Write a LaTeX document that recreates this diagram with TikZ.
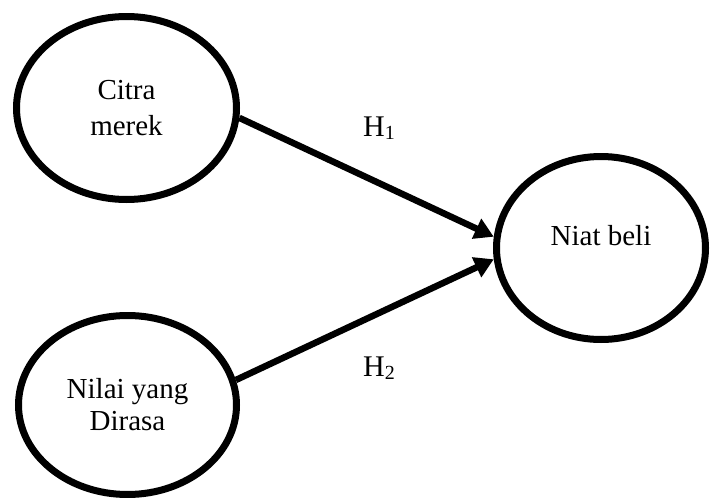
\documentclass[tikz,border=0pt]{standalone}
\usepackage{fontspec}
\setmainfont{Liberation Serif}
\usetikzlibrary{shapes.geometric,arrows.meta}
\tikzset{
  construct/.style={ellipse, draw=black, line width=7pt, inner sep=0pt, align=center,
    font=\fontsize{29}{35}\selectfont},
  path arrow/.style={line width=6.5pt, -{Triangle[length=19pt,width=21pt]}},
  hyp/.style={font=\fontsize{30}{30}\selectfont, inner sep=0pt}
}
\newcommand{\hsub}[1]{H\raisebox{-3.5pt}{\fontsize{20}{20}\selectfont #1}}
\begin{document}
\begin{tikzpicture}[x=1pt,y=-1pt]
\useasboundingbox (0,0) rectangle (710,498);
\node[construct, minimum width=220pt, minimum height=183pt] (citra) at (126.5,108)
  {Citra\\[1pt]merek};
\node[construct, minimum width=218pt, minimum height=179pt] (nilai) at (127.5,405)
  {Nilai yang\\[-3pt]Dirasa};
\node[construct, minimum width=209pt, minimum height=183pt,
  label={[font=\fontsize{29}{35}\selectfont, yshift=12pt]center:Niat beli}] (niat) at (601,248) {};
\draw[path arrow] (citra.355.5) -- (niat.174);
\draw[path arrow] (nilai.13.8) -- (niat.186);
\node[hyp] (h1) at (379,128) {\hsub{1}};
\node[hyp] (h2) at (379,368) {\hsub{2}};
\end{tikzpicture}
\end{document}
